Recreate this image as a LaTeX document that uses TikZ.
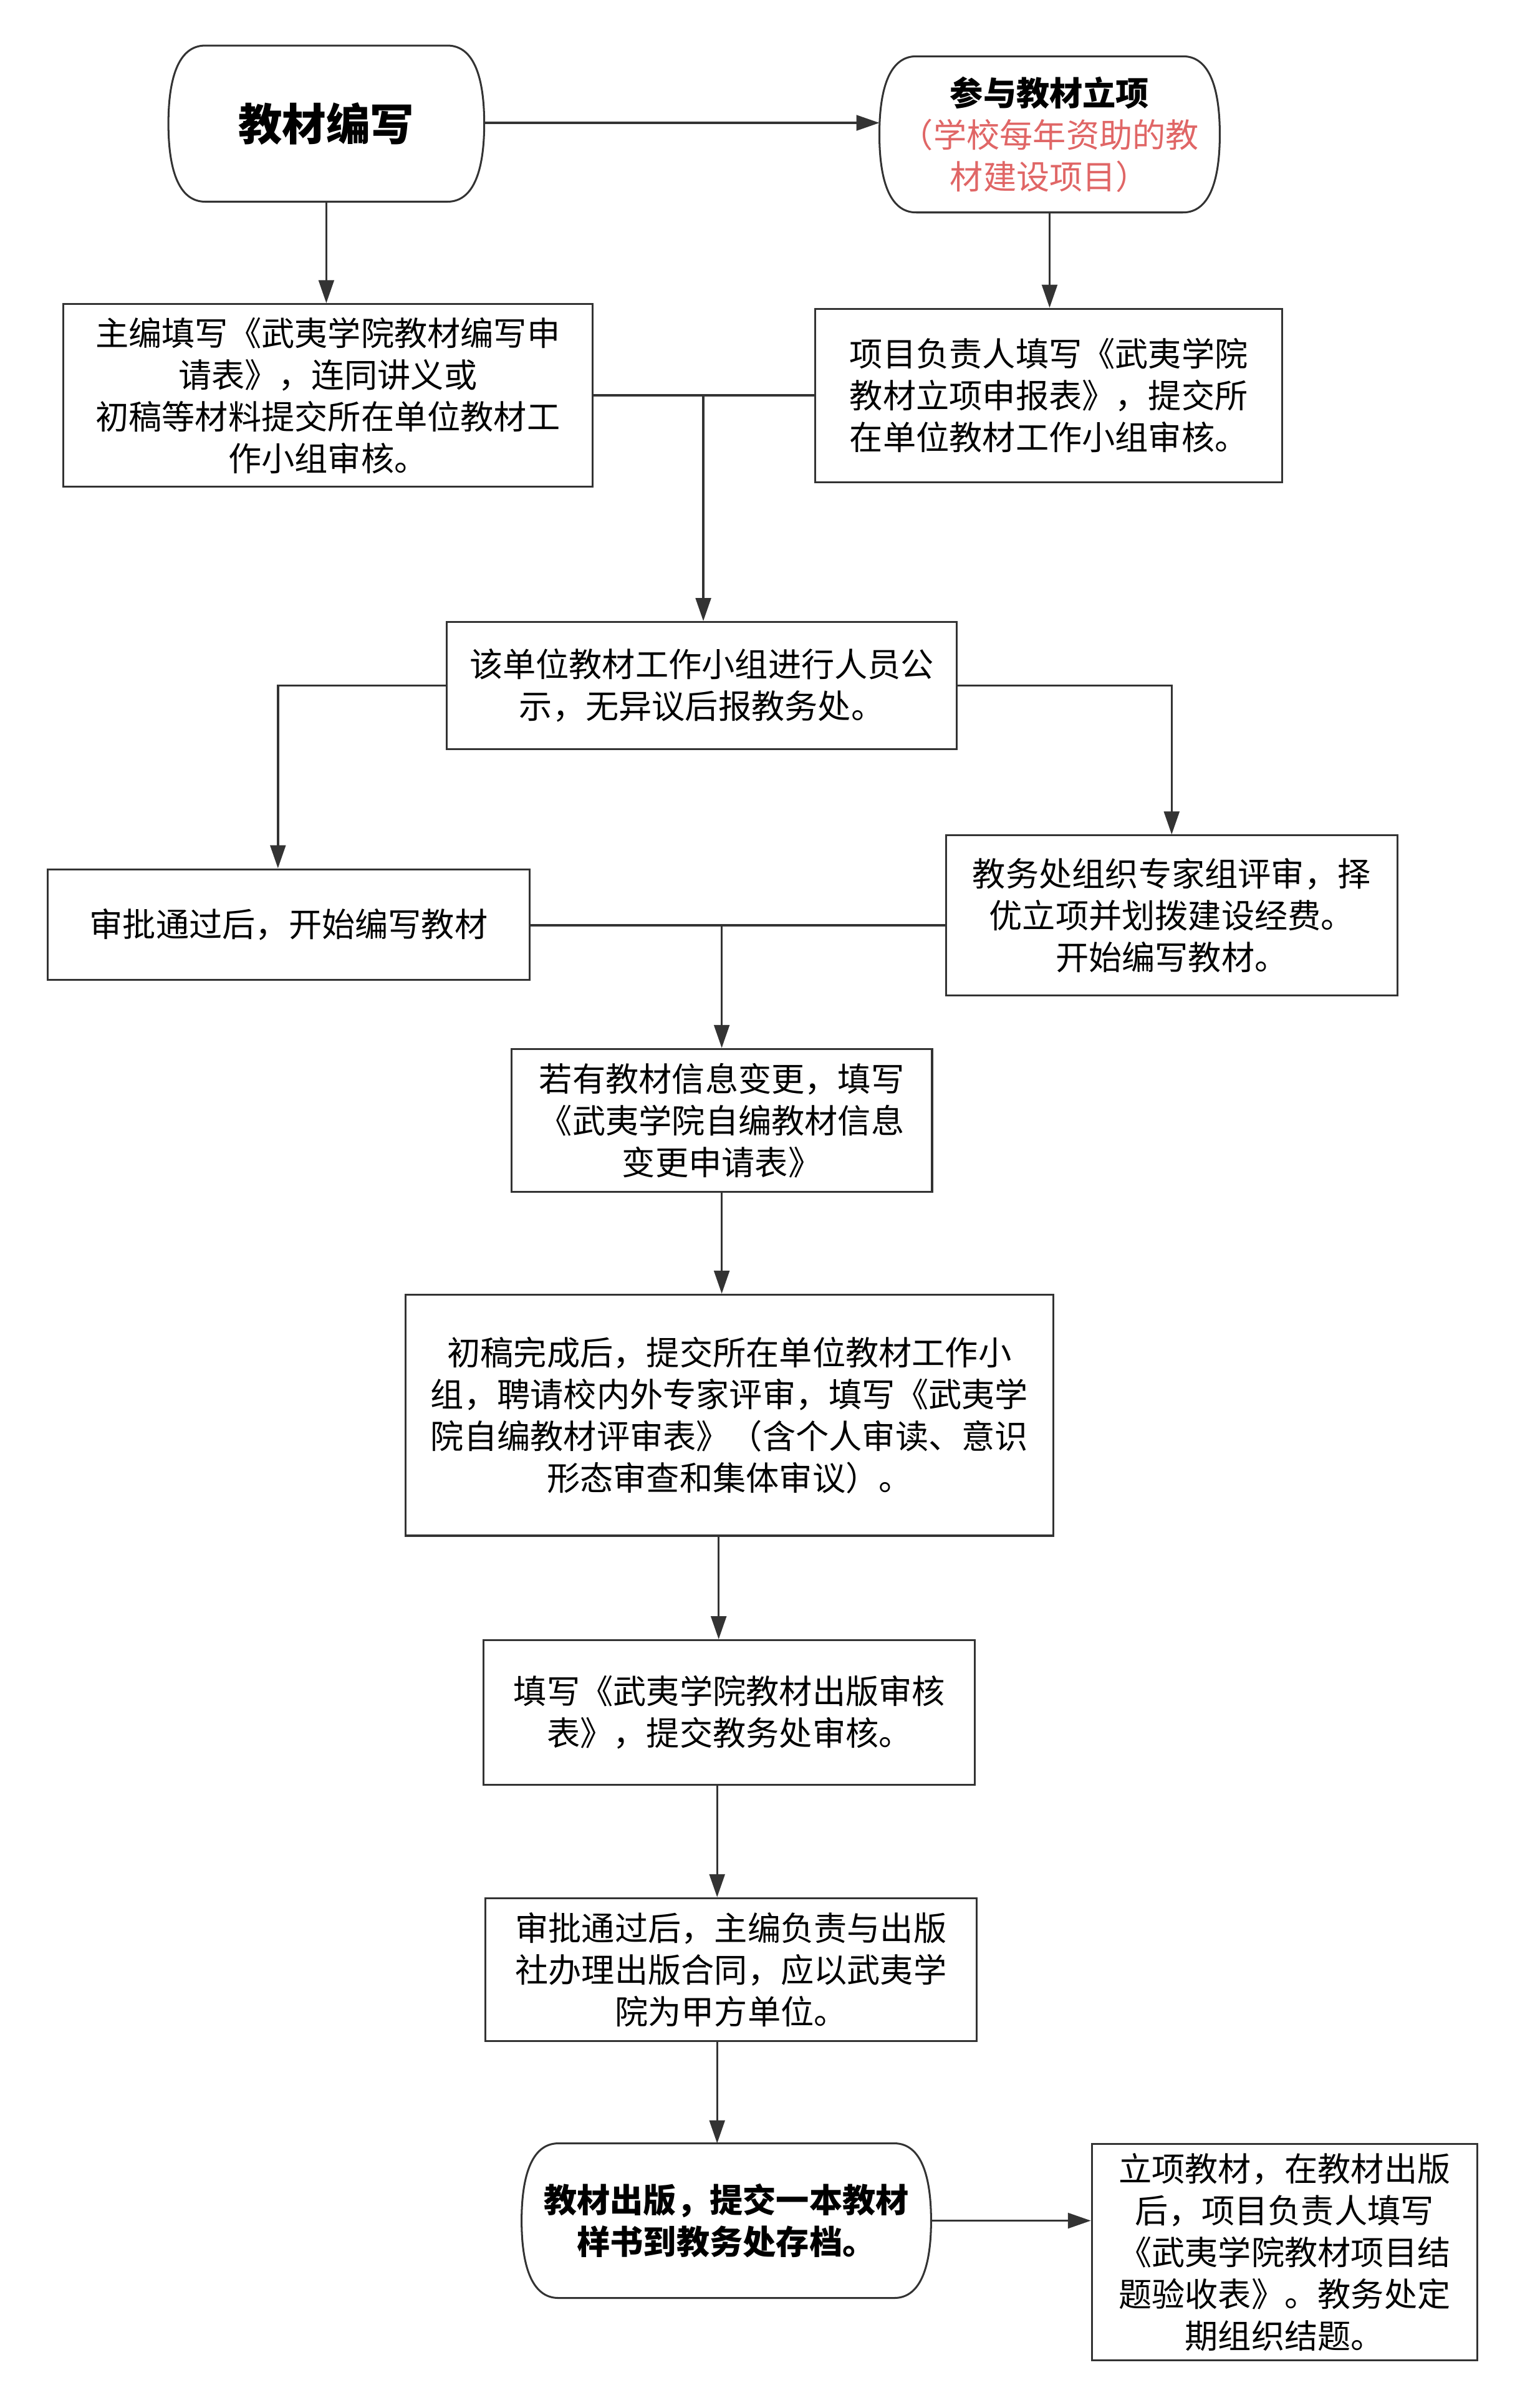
\documentclass[tikz,border=0pt]{standalone}
\usepackage{fontspec}
\setmainfont{Noto Sans CJK SC}
\usetikzlibrary{arrows.meta,calc}
\definecolor{ln}{HTML}{333333}
\definecolor{rd}{HTML}{E06666}
\newcommand\roundshape[1]{%
\draw[ln,line width=0.7pt] ([xshift=0.48cm]#1.north west) -- ([xshift=-0.48cm]#1.north east)
 .. controls ([xshift=-0.12cm]#1.north east) and ([yshift=-0.45cm]#1.north east) .. (#1.east)
 .. controls ([yshift=0.45cm]#1.south east) and ([xshift=-0.12cm]#1.south east) .. ([xshift=-0.48cm]#1.south east)
 -- ([xshift=0.48cm]#1.south west)
 .. controls ([xshift=0.12cm]#1.south west) and ([yshift=0.45cm]#1.south west) .. (#1.west)
 .. controls ([yshift=-0.45cm]#1.north west) and ([xshift=0.12cm]#1.north west) .. cycle;}
\begin{document}
\begin{tikzpicture}[x=0.02cm,y=-0.02cm,
  box/.style={draw=ln,line width=0.7pt,fill=white,align=center,inner sep=0pt,
    font=\fontsize{12.3pt}{15.5pt}\selectfont},
  rbox/.style={draw=none,align=center,inner sep=0pt,
    font=\fontsize{12.3pt}{15.5pt}\selectfont\bfseries},
  conn/.style={ln,line width=0.8pt},
  arr/.style={conn,-{Triangle[length=0.3cm,width=0.2cm]}}]
\useasboundingbox[fill=white] (0,0) rectangle (993,1568);

\node[rbox,minimum width=4.1cm,minimum height=2.02cm,font=\fontsize{16.3pt}{20pt}\selectfont\bfseries] (n1) at (212.5,80.5) {教材编写};
\roundshape{n1}
\node[rbox,minimum width=4.42cm,minimum height=2.02cm] (n2) at (683.5,87.5) {参与教材立项\\\mdseries\color{rd}（学校每年资助的教\\\mdseries\color{rd}材建设项目）};
\roundshape{n2}

\node[box,minimum width=6.9cm,minimum height=2.38cm] (n3) at (213.5,257.5) {主编填写《武夷学院教材编写申\\请表》，连同讲义或\\初稿等材料提交所在单位教材工\\作小组审核。};
\node[box,minimum width=6.08cm,minimum height=2.26cm] (n4) at (683,257.5) {项目负责人填写《武夷学院\\教材立项申报表》，提交所\\在单位教材工作小组审核。};
\node[box,minimum width=6.64cm,minimum height=1.66cm] (n5) at (457,446.5) {该单位教材工作小组进行人员公\\示，无异议后报教务处。};
\node[box,minimum width=6.28cm,minimum height=1.44cm] (n6) at (188,602) {审批通过后，开始编写教材};
\node[box,minimum width=5.88cm,minimum height=2.08cm] (n7) at (763,596) {教务处组织专家组评审，择\\优立项并划拨建设经费。\\开始编写教材。};
\node[box,minimum width=5.48cm,minimum height=1.86cm] (n8) at (470,729.5) {若有教材信息变更，填写\\《武夷学院自编教材信息\\变更申请表》};
\node[box,minimum width=8.44cm,minimum height=3.14cm] (n9) at (475,921.5) {初稿完成后，提交所在单位教材工作小\\组，聘请校内外专家评审，填写《武夷学\\院自编教材评审表》（含个人审读、意识\\形态审查和集体审议）。};
\node[box,minimum width=6.4cm,minimum height=1.88cm] (n10) at (475,1115) {填写《武夷学院教材出版审核\\表》，提交教务处审核。};
\node[box,minimum width=6.4cm,minimum height=1.86cm] (n11) at (476,1282.5) {审批通过后，主编负责与出版\\社办理出版合同，应以武夷学\\院为甲方单位。};
\node[rbox,minimum width=5.32cm,minimum height=2.0cm] (n12) at (473,1446) {教材出版，提交一本教材\\样书到教务处存档。};
\roundshape{n12}
\node[box,minimum width=5.02cm,minimum height=2.82cm] (n13) at (836.5,1466.5) {立项教材，在教材出版\\后，项目负责人填写\\《武夷学院教材项目结\\题验收表》。教务处定\\期组织结题。};

% connectors
\draw[arr] ($(n1.east)+(0,-0.5)$) -- ($(n1.east -| n2.west)+(0,-0.5)$);
\draw[arr] (n1.south) -- (n1.south |- n3.north);
\draw[arr] (n2.south) -- (n2.south |- n4.north);
\draw[conn] (n3.east) -- (n4.west);
\coordinate (j1) at (458,257.5);
\draw[arr] (j1) -- (j1 |- n5.north);
\draw[arr] (n5.west) -| ($(n6.north)+(-7,0)$);
\draw[arr] (n5.east) -| (n7.north);
\coordinate (j2) at (470,602.5);
\draw[conn] (n6.east |- j2) -- (j2) -- (n7.west |- j2);
\draw[arr] (j2) -- (n8.north);
\draw[arr] (n8.south) -- (n8.south |- n9.north);
\draw[arr] ($(n9.south)+(-7,0)$) -- ($(n10.north)+(-7,0)$);
\draw[arr] ($(n10.south)+(-8,0)$) -- ($(n11.north)+(-9,0)$);
\draw[arr] ($(n11.south)+(-9,0)$) -- ($(n12.north)+(-6,0)$);
\draw[arr] (n12.east) -- (n12.east -| n13.west);
\end{tikzpicture}
\end{document}
